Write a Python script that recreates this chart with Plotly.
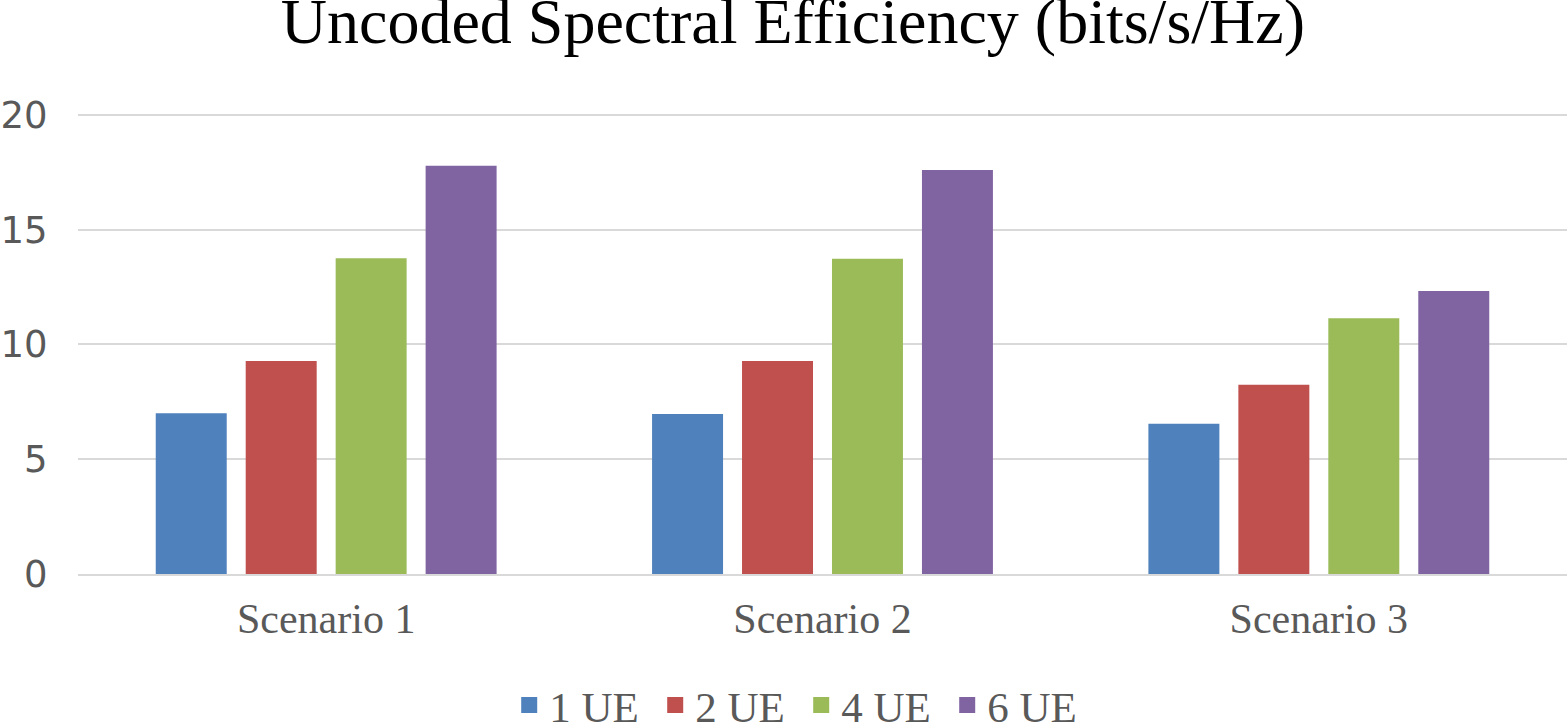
import plotly.graph_objects as go

# Data
scenarios = ['Scenario 1', 'Scenario 2', 'Scenario 3']
ue_1 = [7.00, 6.97, 6.54]
ue_2 = [9.28, 9.28, 8.24]
ue_4 = [13.76, 13.73, 11.14]
ue_6 = [17.78, 17.60, 12.33]
y_ticks = [0, 5, 10, 15, 20]

series = [
    ('1 UE', ue_1, '#4F81BD'),
    ('2 UE', ue_2, '#C0504D'),
    ('4 UE', ue_4, '#9BBB59'),
    ('6 UE', ue_6, '#8064A2'),
]

fig = go.Figure()
for name, vals, color in series:
    fig.add_trace(go.Bar(x=scenarios, y=vals, name=name, showlegend=False,
                         marker=dict(color=color, line=dict(width=0))))
# legend entries with bigger square swatches
for name, vals, color in series:
    fig.add_trace(go.Scatter(x=[None], y=[None], mode='markers', name=name,
                             marker=dict(symbol='square', size=19, color=color)))

serif = 'Liberation Serif, Times New Roman, serif'
y_top = 20.3

fig.update_layout(
    width=1567, height=725,
    paper_bgcolor='white', plot_bgcolor='white',
    margin=dict(l=78, r=0, t=108, b=151, autoexpand=False),
    barmode='group', bargap=0.275, bargroupgap=0.211,
    title=dict(text='Uncoded Spectral Efficiency (bits/s/Hz)',
               x=0.506, xanchor='center', y=1 - 21 / 725, yanchor='middle',
               font=dict(family=serif, size=64, color='black')),
    showlegend=True,
    legend=dict(orientation='h', x=0.4857, xanchor='center', y=-0.281, yanchor='middle',
                font=dict(family=serif, size=43, color='#595959'),
                itemwidth=30, entrywidth=101, traceorder='normal', tracegroupgap=0),
    xaxis=dict(showgrid=False, showline=True, linecolor='#d9d9d9', linewidth=2,
               automargin=False,
               ticks='outside', ticklen=7, tickcolor='rgba(0,0,0,0)',
               tickfont=dict(family=serif, size=42, color='#595959')),
    yaxis=dict(range=[0, y_top], tickvals=y_ticks, automargin=False,
               showgrid=True, gridcolor='#d9d9d9', gridwidth=2, zeroline=False,
               ticks='outside', ticklen=22, tickcolor='rgba(0,0,0,0)',
               tickfont=dict(family='DejaVu Sans, sans-serif', size=37, color='#595959')),
)

fig.write_html('out.html', config={'displayModeBar': False},
               post_script="document.body.style.margin='0';")
